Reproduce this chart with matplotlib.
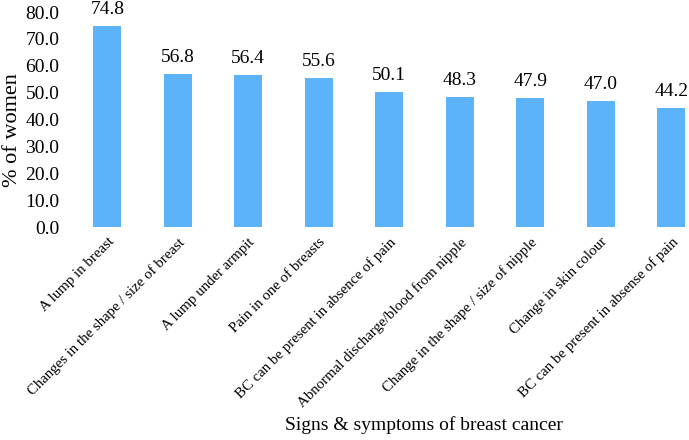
import numpy as np
import matplotlib.pyplot as plt

plt.rcParams['font.family'] = ['Liberation Serif', 'DejaVu Serif']

categories = ['A lump in breast', 'Changes in the shape / size of breast', 'A lump under armpit',
              'Pain in one of breasts', 'BC can be present in absence of pain',
              'Abnormal discharge/blood from nipple', 'Change in the shape / size of nipple',
              'Change in skin colour', 'BC can be present in absense of pain']
values = [74.8, 56.8, 56.4, 55.6, 50.1, 48.3, 47.9, 47.0, 44.2]
yticks = [0, 10, 20, 30, 40, 50, 60, 70, 80]

fig = plt.figure(figsize=(6.89, 4.40), dpi=100)
ax = fig.add_axes([72 / 689, 213 / 440, 617 / 689, 215 / 440])

x = np.arange(len(categories))
ax.bar(x, values, width=0.4, color='#5cb3fa')
for xi, v in zip(x, values):
    ax.text(xi, v + 3, '%.1f' % v, ha='center', va='bottom', fontsize=14, clip_on=False)

ax.set_xlim(-0.5, 8.25)
ax.set_ylim(0, 80)
ax.set_yticks(yticks)
ax.set_yticklabels(['%.1f' % t for t in yticks], fontsize=14)
ax.set_xticks(x)
ax.set_xticklabels(categories, rotation=45, ha='right', rotation_mode='anchor', fontsize=10.7)
ax.tick_params(axis='y', length=0, pad=9)
ax.tick_params(axis='x', length=0, pad=6)
for s in ax.spines.values():
    s.set_visible(False)

ax.set_ylabel('% of women', fontsize=16)
ax.yaxis.set_label_coords(-0.081, 0.45)
ax.set_xlabel('Signs & symptoms of breast cancer', fontsize=14)
ax.xaxis.set_label_coords(0.57, -0.88)

fig.savefig('out.png', dpi=100)
